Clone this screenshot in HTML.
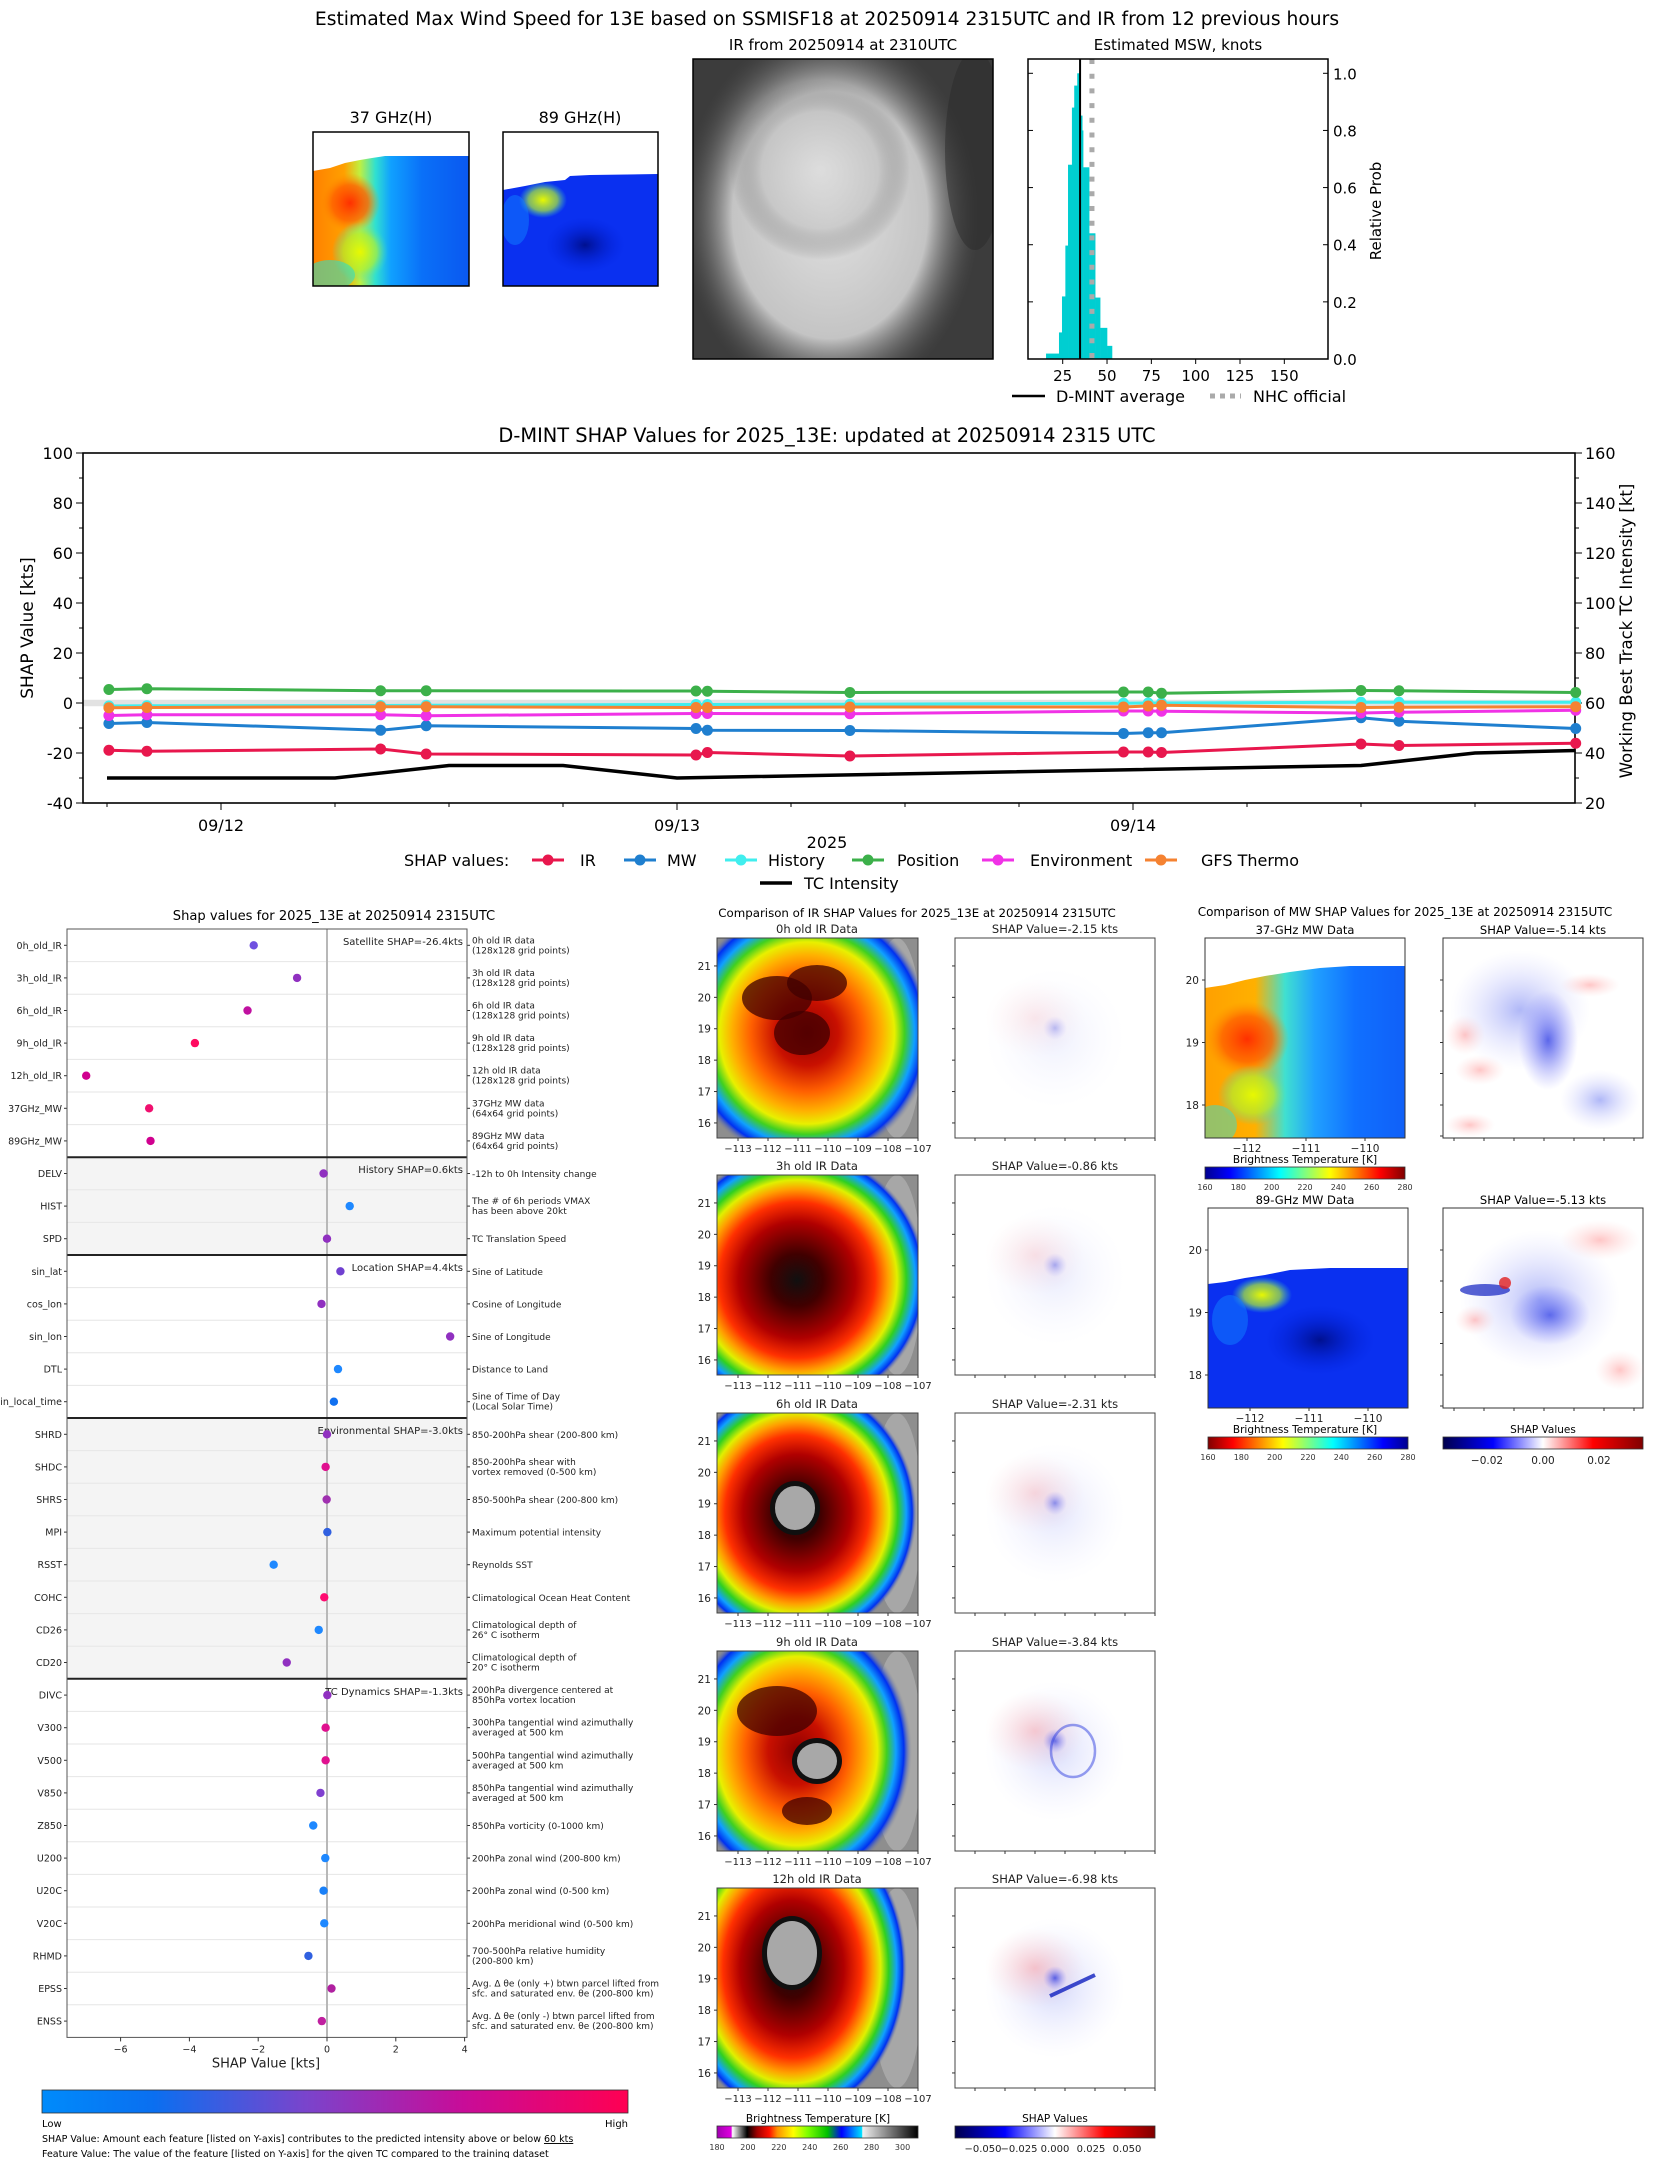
<!DOCTYPE html>
<html><head><meta charset="utf-8">
<style>
html,body{margin:0;padding:0;background:#fff;}
svg{display:block;font-family:"DejaVu Sans","Liberation Sans",sans-serif;}
</style></head>
<body>
<svg id="root" xmlns="http://www.w3.org/2000/svg" width="1655" height="2158" viewBox="0 0 1655 2158">
<defs>
  <linearGradient id="jet" x1="0" x2="1" y1="0" y2="0">
    <stop offset="0" stop-color="#00008f"/><stop offset="0.125" stop-color="#0000ff"/><stop offset="0.375" stop-color="#00ffff"/><stop offset="0.625" stop-color="#ffff00"/><stop offset="0.875" stop-color="#ff0000"/><stop offset="1" stop-color="#800000"/>
  </linearGradient>
  <linearGradient id="jetr" x1="1" x2="0" y1="0" y2="0">
    <stop offset="0" stop-color="#00008f"/><stop offset="0.125" stop-color="#0000ff"/><stop offset="0.375" stop-color="#00ffff"/><stop offset="0.625" stop-color="#ffff00"/><stop offset="0.875" stop-color="#ff0000"/><stop offset="1" stop-color="#800000"/>
  </linearGradient>
  <linearGradient id="bwr" x1="0" x2="1" y1="0" y2="0">
    <stop offset="0" stop-color="#00004c"/><stop offset="0.25" stop-color="#0000ff"/><stop offset="0.5" stop-color="#ffffff"/><stop offset="0.75" stop-color="#ff0000"/><stop offset="1" stop-color="#800000"/>
  </linearGradient>
  <linearGradient id="irmap" x1="0" x2="1" y1="0" y2="0">
    <stop offset="0" stop-color="#a000b0"/><stop offset="0.07" stop-color="#e000e0"/><stop offset="0.077" stop-color="#ffffff"/><stop offset="0.15" stop-color="#000000"/><stop offset="0.2" stop-color="#a00000"/><stop offset="0.26" stop-color="#ff1000"/><stop offset="0.3" stop-color="#ff9000"/><stop offset="0.38" stop-color="#ffff00"/><stop offset="0.45" stop-color="#80ff00"/><stop offset="0.55" stop-color="#00c000"/><stop offset="0.62" stop-color="#0000ff"/><stop offset="0.72" stop-color="#00e0ff"/><stop offset="0.725" stop-color="#f0f0f0"/><stop offset="1" stop-color="#000000"/>
  </linearGradient>
  <linearGradient id="shapcb" x1="0" x2="1" y1="0" y2="0">
    <stop offset="0" stop-color="#008bfb"/><stop offset="0.19" stop-color="#0a6ff0"/><stop offset="0.45" stop-color="#7a44cc"/><stop offset="0.72" stop-color="#c80c98"/><stop offset="1" stop-color="#ff0052"/>
  </linearGradient>
  <radialGradient id="irA">
    <stop offset="0" stop-color="#900000"/><stop offset="0.25" stop-color="#c81000"/><stop offset="0.45" stop-color="#ff6000"/><stop offset="0.6" stop-color="#ffb000"/><stop offset="0.7" stop-color="#e8f000"/><stop offset="0.78" stop-color="#40d020"/><stop offset="0.86" stop-color="#10a0ff"/><stop offset="0.93" stop-color="#0030f0"/><stop offset="1" stop-color="#8c8c8c" stop-opacity="0"/>
  </radialGradient>
  <radialGradient id="irB">
    <stop offset="0" stop-color="#101010"/><stop offset="0.2" stop-color="#400000"/><stop offset="0.45" stop-color="#b00000"/><stop offset="0.6" stop-color="#ff3000"/><stop offset="0.7" stop-color="#ffa000"/><stop offset="0.77" stop-color="#e0f000"/><stop offset="0.84" stop-color="#30d020"/><stop offset="0.91" stop-color="#10a0ff"/><stop offset="0.96" stop-color="#0030f0"/><stop offset="1" stop-color="#8c8c8c" stop-opacity="0"/>
  </radialGradient>
  <radialGradient id="grayir">
    <stop offset="0" stop-color="#e0e0e0"/><stop offset="0.65" stop-color="#c4c4c4"/><stop offset="1" stop-color="#505050" stop-opacity="0"/>
  </radialGradient>
  <radialGradient id="redblob"><stop offset="0" stop-color="#ff3000"/><stop offset="0.6" stop-color="#ff6000" stop-opacity="0.8"/><stop offset="1" stop-color="#ff9000" stop-opacity="0"/></radialGradient>
  <radialGradient id="yelblob"><stop offset="0" stop-color="#e8f800"/><stop offset="0.6" stop-color="#b0f030" stop-opacity="0.7"/><stop offset="1" stop-color="#40e0c0" stop-opacity="0"/></radialGradient>
  <radialGradient id="darkblob"><stop offset="0" stop-color="#00108f"/><stop offset="1" stop-color="#0020e0" stop-opacity="0"/></radialGradient>
  <radialGradient id="blueblob"><stop offset="0" stop-color="#2030e0" stop-opacity="0.8"/><stop offset="1" stop-color="#8080ff" stop-opacity="0"/></radialGradient>
  <radialGradient id="faintblue"><stop offset="0" stop-color="#6070f0" stop-opacity="0.5"/><stop offset="1" stop-color="#c0c0ff" stop-opacity="0"/></radialGradient>
  <radialGradient id="faintred"><stop offset="0" stop-color="#ff8080" stop-opacity="0.45"/><stop offset="1" stop-color="#ffc0c0" stop-opacity="0"/></radialGradient>
  <linearGradient id="mw37fill" x1="0" x2="1" y1="0" y2="0">
    <stop offset="0" stop-color="#ff8000"/><stop offset="0.2" stop-color="#ffa000"/><stop offset="0.3" stop-color="#c0f040"/><stop offset="0.4" stop-color="#30e0d0"/><stop offset="0.5" stop-color="#10a0ff"/><stop offset="0.7" stop-color="#0a70f8"/><stop offset="1" stop-color="#0a58f0"/>
  </linearGradient>
  <linearGradient id="mw37big" x1="0" x2="1" y1="0" y2="0">
    <stop offset="0" stop-color="#ffa000"/><stop offset="0.25" stop-color="#ffb000"/><stop offset="0.4" stop-color="#40e0d0"/><stop offset="0.55" stop-color="#20a0ff"/><stop offset="0.75" stop-color="#1070ff"/><stop offset="1" stop-color="#1060f8"/>
  </linearGradient>
  <clipPath id="clip37"><rect x="313" y="132" width="156" height="154"/></clipPath>
  <clipPath id="clip89"><rect x="503" y="132" width="155" height="154"/></clipPath>
  <clipPath id="clipIRtop"><rect x="693" y="59" width="300" height="300"/></clipPath>
  <clipPath id="clipMW37"><rect x="1205" y="938" width="200" height="200"/></clipPath>
  <clipPath id="clipMW89"><rect x="1208" y="1208" width="200" height="200"/></clipPath>
</defs>

<!-- ============ TOP SECTION ============ -->
<text x="827" y="25" font-size="18.7" text-anchor="middle">Estimated Max Wind Speed for 13E based on SSMISF18 at 20250914 2315UTC and IR from 12 previous hours</text>
<text x="391" y="123" font-size="16" text-anchor="middle">37 GHz(H)</text>
<text x="580" y="123" font-size="16" text-anchor="middle">89 GHz(H)</text>
<text x="843" y="50" font-size="15" text-anchor="middle">IR from 20250914 at 2310UTC</text>
<text x="1178" y="50" font-size="15" text-anchor="middle">Estimated MSW, knots</text>

<g clip-path="url(#clip37)">
  <rect x="313" y="132" width="156" height="154" fill="#fff"/>
  <polygon points="313,171 330,168 345,163 360,160 372,158 385,156 469,156 469,286 313,286" fill="url(#mw37fill)"/>
  <ellipse cx="350" cy="203" rx="30" ry="30" fill="url(#redblob)"/>
  <ellipse cx="360" cy="252" rx="28" ry="30" fill="url(#yelblob)"/>
  <ellipse cx="330" cy="275" rx="25" ry="15" fill="#30e0c0" opacity="0.6"/>
</g>
<rect x="313" y="132" width="156" height="154" fill="none" stroke="#000" stroke-width="1.5"/>
<g clip-path="url(#clip89)">
  <rect x="503" y="132" width="155" height="154" fill="#fff"/>
  <polygon points="503,190 525,186 545,182 565,180 570,176 590,175 658,174 658,286 503,286" fill="#0a30f0"/>
  <ellipse cx="543" cy="200" rx="24" ry="18" fill="url(#yelblob)"/>
  <ellipse cx="585" cy="245" rx="40" ry="28" fill="url(#darkblob)"/>
  <ellipse cx="515" cy="220" rx="14" ry="25" fill="#1080ff" opacity="0.5"/>
</g>
<rect x="503" y="132" width="155" height="154" fill="none" stroke="#000" stroke-width="1.5"/>

<g clip-path="url(#clipIRtop)">
  <rect x="693" y="59" width="300" height="300" fill="#3c3c3c"/>
  <ellipse cx="830" cy="215" rx="150" ry="190" fill="url(#grayir)"/>
  <ellipse cx="820" cy="170" rx="90" ry="90" fill="url(#grayir)" opacity="0.7"/>
  <ellipse cx="975" cy="150" rx="30" ry="100" fill="#2a2a2a" opacity="0.5"/>
</g>
<rect x="693" y="59" width="300" height="300" fill="none" stroke="#000" stroke-width="1.5"/>

<g id="hist"></g>

<!-- ============ SHAP TIME SERIES ============ -->
<text x="827" y="442" font-size="19.4" text-anchor="middle">D-MINT SHAP Values for 2025_13E: updated at 20250914 2315 UTC</text>
<g id="ts"></g>

<!-- ============ BOTTOM LEFT ============ -->
<text x="334" y="920" font-size="13.1" text-anchor="middle">Shap values for 2025_13E at 20250914 2315UTC</text>
<g id="dots"></g>
<rect x="42" y="2090" width="586" height="23" fill="url(#shapcb)" stroke="#333" stroke-width="0.8"/>
<text x="42" y="2127" font-size="10">Low</text>
<text x="628" y="2127" font-size="10" text-anchor="end">High</text>
<text x="42" y="2142" font-size="9.5">SHAP Value: Amount each feature [listed on Y-axis] contributes to the predicted intensity above or below <tspan text-decoration="underline">60 kts</tspan></text>
<text x="42" y="2157" font-size="9.5">Feature Value: The value of the feature [listed on Y-axis] for the given TC compared to the training dataset</text>

<!-- ============ BOTTOM MIDDLE ============ -->
<text x="917" y="917" font-size="11.8" text-anchor="middle">Comparison of IR SHAP Values for 2025_13E at 20250914 2315UTC</text>
<g id="irpanels"></g>
<text x="818" y="2122" font-size="10.5" text-anchor="middle">Brightness Temperature [K]</text>
<rect x="717" y="2126" width="201" height="12" fill="url(#irmap)" stroke="#333" stroke-width="0.8"/>
<g id="ircbticks"></g>
<text x="1055" y="2122" font-size="10.5" text-anchor="middle">SHAP Values</text>
<rect x="955" y="2126" width="200" height="12" fill="url(#bwr)" stroke="#333" stroke-width="0.8"/>
<g id="irshapcbticks"></g>

<!-- ============ BOTTOM RIGHT ============ -->
<text x="1405" y="916" font-size="12" text-anchor="middle">Comparison of MW SHAP Values for 2025_13E at 20250914 2315UTC</text>
<text x="1305" y="934" font-size="11.5" text-anchor="middle">37-GHz MW Data</text>
<text x="1543" y="934" font-size="11.5" text-anchor="middle">SHAP Value=-5.14 kts</text>
<g clip-path="url(#clipMW37)">
  <rect x="1205" y="938" width="200" height="200" fill="#fff"/>
  <polygon points="1205,988 1225,985 1245,980 1265,976 1290,972 1320,968 1350,966 1405,966 1405,1138 1205,1138" fill="url(#mw37big)"/>
  <ellipse cx="1247" cy="1039" rx="42" ry="38" fill="url(#redblob)"/>
  <ellipse cx="1253" cy="1095" rx="35" ry="30" fill="url(#yelblob)"/>
  <ellipse cx="1215" cy="1125" rx="22" ry="20" fill="#30e0d0" opacity="0.5"/>
</g>
<rect x="1205" y="938" width="200" height="200" fill="none" stroke="#333" stroke-width="1"/>
<rect x="1443" y="938" width="200" height="200" fill="#fff" stroke="#333" stroke-width="1"/>
<g>
  <ellipse cx="1548" cy="1040" rx="30" ry="50" fill="url(#blueblob)"/>
  <ellipse cx="1520" cy="1010" rx="70" ry="60" fill="url(#faintblue)"/>
  <ellipse cx="1465" cy="1035" rx="20" ry="20" fill="url(#faintred)"/>
  <ellipse cx="1480" cy="1070" rx="25" ry="15" fill="url(#faintred)"/>
  <ellipse cx="1470" cy="1125" rx="25" ry="12" fill="url(#faintred)"/>
  <ellipse cx="1590" cy="985" rx="30" ry="12" fill="url(#faintred)"/>
  <ellipse cx="1600" cy="1100" rx="40" ry="30" fill="url(#faintblue)"/>
</g>
<text x="1305" y="1163" font-size="10.5" text-anchor="middle">Brightness Temperature [K]</text>
<rect x="1205" y="1167" width="200" height="12" fill="url(#jet)" stroke="#333" stroke-width="0.8"/>
<text x="1305" y="1204" font-size="11.5" text-anchor="middle">89-GHz MW Data</text>
<text x="1543" y="1204" font-size="11.5" text-anchor="middle">SHAP Value=-5.13 kts</text>
<g clip-path="url(#clipMW89)">
  <rect x="1208" y="1208" width="200" height="200" fill="#fff"/>
  <polygon points="1208,1284 1225,1282 1245,1278 1265,1275 1290,1270 1330,1268 1408,1268 1408,1408 1208,1408" fill="#0a30f0"/>
  <ellipse cx="1262" cy="1295" rx="30" ry="18" fill="url(#yelblob)"/>
  <ellipse cx="1320" cy="1340" rx="55" ry="35" fill="url(#darkblob)"/>
  <ellipse cx="1230" cy="1320" rx="18" ry="25" fill="#1080ff" opacity="0.5"/>
</g>
<rect x="1208" y="1208" width="200" height="200" fill="none" stroke="#333" stroke-width="1"/>
<rect x="1443" y="1208" width="200" height="200" fill="#fff" stroke="#333" stroke-width="1"/>
<g>
  <ellipse cx="1550" cy="1315" rx="40" ry="30" fill="url(#blueblob)"/>
  <ellipse cx="1540" cy="1300" rx="80" ry="70" fill="url(#faintblue)"/>
  <ellipse cx="1485" cy="1290" rx="25" ry="6" fill="#1020c0" opacity="0.7"/>
  <ellipse cx="1505" cy="1283" rx="6" ry="6" fill="#e02020" opacity="0.8"/>
  <ellipse cx="1475" cy="1320" rx="20" ry="15" fill="url(#faintred)"/>
  <ellipse cx="1600" cy="1240" rx="40" ry="20" fill="url(#faintred)"/>
  <ellipse cx="1620" cy="1370" rx="25" ry="20" fill="url(#faintred)"/>
</g>
<text x="1305" y="1433" font-size="10.5" text-anchor="middle">Brightness Temperature [K]</text>
<rect x="1208" y="1437" width="200" height="12" fill="url(#jetr)" stroke="#333" stroke-width="0.8"/>
<text x="1543" y="1433" font-size="10.5" text-anchor="middle">SHAP Values</text>
<rect x="1443" y="1437" width="200" height="12" fill="url(#bwr)" stroke="#333" stroke-width="0.8"/>
<g id="mwticks"></g>
</svg>

<script>
const NS='http://www.w3.org/2000/svg';
function mk(parent, tag, attrs, text){
  const e=document.createElementNS(NS,tag);
  for(const k in attrs) e.setAttribute(k,attrs[k]);
  if(text!=null) e.textContent=text;
  parent.appendChild(e);
  return e;
}

/* ---------- Histogram data ---------- */
const histEdges=[15.6,22.9,24.6,26.5,28.0,30.2,31.5,33.2,34.8,36.0,36.5,39.9,43.3,46.1,50.0,52.8];
const histProb=[0.019,0.093,0.219,0.397,0.68,0.88,0.957,1.0,0.852,0.80,0.671,0.44,0.215,0.109,0.046];
const dmintAvg=34.8;
const nhcOfficial=41.5;
const histXTicks=[25,50,75,100,125,150];
const histYTicks=[0,0.2,0.4,0.6,0.8,1.0];

/* ---------- Time series data (hours from 09/12 00Z) ---------- */
const tsHours=[-5.9,-3.9,8.4,10.8,25.0,25.6,33.1,47.5,48.8,49.5,60,62,71.3];
const shapIR=[-18.9,-19.3,-18.4,-20.4,-20.8,-19.8,-21.2,-19.6,-19.6,-19.8,-16.4,-17.0,-16.1];
const shapMW=[-8.2,-7.8,-10.9,-9.1,-10.2,-10.9,-11.0,-12.2,-11.9,-11.9,-5.9,-7.3,-10.2];
const shapHistory=[-1.2,-1.1,-1.0,-0.9,-0.6,-0.6,-0.5,-0.1,0,0,0.3,0.3,0.3];
const shapPosition=[5.4,5.7,4.9,4.9,4.8,4.7,4.2,4.4,4.4,3.9,5.0,4.9,4.2];
const shapEnv=[-5.0,-4.7,-4.7,-5.1,-4.2,-4.2,-4.3,-3.2,-3.2,-3.3,-4.0,-3.7,-2.9];
const shapGFS=[-1.9,-1.8,-1.5,-1.5,-1.8,-1.8,-1.6,-1.6,-1.2,-0.9,-1.8,-1.7,-1.5];
const tcHours=[-6,6,12,18,24,60,66,71.3];
const tcIntensity=[30,30,35,35,30,35,40,41];
const tsLeftTicks=[-40,-20,0,20,40,60,80,100];
const tsRightTicks=[20,40,60,80,100,120,140,160];
const tsDateLabels=['09/12','09/13','09/14'];

/* ---------- Dot chart data ---------- */
const featNames=['0h_old_IR','3h_old_IR','6h_old_IR','9h_old_IR','12h_old_IR','37GHz_MW','89GHz_MW','DELV','HIST','SPD','sin_lat','cos_lon','sin_lon','DTL','sin_local_time','SHRD','SHDC','SHRS','MPI','RSST','COHC','CD26','CD20','DIVC','V300','V500','V850','Z850','U200','U20C','V20C','RHMD','EPSS','ENSS'];
const featShap=[-2.13,-0.87,-2.31,-3.84,-7.0,-5.17,-5.13,-0.1,0.66,0.0,0.39,-0.16,3.58,0.32,0.2,0.0,-0.04,-0.01,0.01,-1.55,-0.08,-0.24,-1.17,0.01,-0.04,-0.04,-0.19,-0.40,-0.05,-0.1,-0.08,-0.54,0.13,-0.15];
const featColor=['#7050e0','#9030c0','#c010a0','#ff0a60','#d0008f','#f0106f','#d0008f','#9030c0','#1e88ff','#9030c0','#7040d0','#9030c0','#9030c0','#1e88ff','#1070f0','#9030c0','#e0108f','#a030b0','#3060e0','#1e88ff','#ff0a70','#1e88ff','#9030c0','#9030c0','#e0108f','#e0108f','#8040d0','#1e88ff','#1e88ff','#1a80f8','#1e88ff','#3060e0','#b020a0','#c020a0'];
const featDesc=[['0h old IR data','(128x128 grid points)'],['3h old IR data','(128x128 grid points)'],['6h old IR data','(128x128 grid points)'],['9h old IR data','(128x128 grid points)'],['12h old IR data','(128x128 grid points)'],['37GHz MW data','(64x64 grid points)'],['89GHz MW data','(64x64 grid points)'],['-12h to 0h Intensity change'],['The # of 6h periods VMAX','has been above 20kt'],['TC Translation Speed'],['Sine of Latitude'],['Cosine of Longitude'],['Sine of Longitude'],['Distance to Land'],['Sine of Time of Day','(Local Solar Time)'],['850-200hPa shear (200-800 km)'],['850-200hPa shear with','vortex removed (0-500 km)'],['850-500hPa shear (200-800 km)'],['Maximum potential intensity'],['Reynolds SST'],['Climatological Ocean Heat Content'],['Climatological depth of','26° C isotherm'],['Climatological depth of','20° C isotherm'],['200hPa divergence centered at','850hPa vortex location'],['300hPa tangential wind azimuthally','averaged at 500 km'],['500hPa tangential wind azimuthally','averaged at 500 km'],['850hPa tangential wind azimuthally','averaged at 500 km'],['850hPa vorticity (0-1000 km)'],['200hPa zonal wind (200-800 km)'],['200hPa zonal wind (0-500 km)'],['200hPa meridional wind (0-500 km)'],['700-500hPa relative humidity','(200-800 km)'],['Avg. Δ θe (only +) btwn parcel lifted from','sfc. and saturated env. θe (200-800 km)'],['Avg. Δ θe (only -) btwn parcel lifted from','sfc. and saturated env. θe (200-800 km)']];
const groupNames=['Satellite SHAP=-26.4kts','History SHAP=0.6kts','Location SHAP=4.4kts','Environmental SHAP=-3.0kts','TC Dynamics SHAP=-1.3kts'];
const groupStart=[0,7,10,15,23];
const groupSize=[7,3,5,8,11];
const dotXTicks=[-6,-4,-2,0,2,4];

/* ---------- IR panel data ---------- */
const irTitles=['0h old IR Data','3h old IR Data','6h old IR Data','9h old IR Data','12h old IR Data'];
const irShapVals=['-2.15','-0.86','-2.31','-3.84','-6.98'];
const lonTicks=[-113,-112,-111,-110,-109,-108,-107];
const latTicks=[16,17,18,19,20,21];
const irCbTicks=[180,200,220,240,260,280,300];
const shapCbTicks=['−0.050','−0.025','0.000','0.025','0.050'];
const mwCbTicks=[160,180,200,220,240,260,280];

/* ===== Histogram ===== */
(function(){
  const g=document.getElementById('hist');
  const X0=1028,X1=1328,Y0=359,Y1=59;
  const xs=v=>1062.7+(v-25)*1.773;
  const ys=p=>Y0-p*285.7;
  for(let i=0;i<histProb.length;i++){
    const b=mk(g,'rect',{x:xs(histEdges[i]),y:ys(histProb[i]),width:xs(histEdges[i+1])-xs(histEdges[i])+0.3,height:Y0-ys(histProb[i]),fill:'#00ced1'});
    
    
  }
  const l=mk(g,'line',{x1:xs(dmintAvg),x2:xs(dmintAvg),y1:Y1,y2:Y0,stroke:'#000','stroke-width':2});
  
  
  const n=mk(g,'line',{x1:xs(nhcOfficial),x2:xs(nhcOfficial),y1:Y1,y2:Y0,stroke:'#aaa','stroke-width':5,'stroke-dasharray':'5 9.7'});
  
  
  const f=mk(g,'rect',{x:X0,y:Y1,width:X1-X0,height:Y0-Y1,fill:'none',stroke:'#000','stroke-width':1.5});
  
  
  histXTicks.forEach(v=>{
    mk(g,'line',{x1:xs(v),x2:xs(v),y1:Y0,y2:Y0+5,stroke:'#000'});
    const t=mk(g,'text',{x:xs(v),y:Y0+22,'font-size':15,'text-anchor':'middle'},String(v));
    
    
  });
  histYTicks.forEach(v=>{
    mk(g,'line',{x1:X1-5,x2:X1,y1:ys(v),y2:ys(v),stroke:'#000'});
    mk(g,'line',{x1:X0,x2:X0+5,y1:ys(v),y2:ys(v),stroke:'#000'});
    const t=mk(g,'text',{x:X1+5,y:ys(v)+6,'font-size':15},v.toFixed(1));
    
    
  });
  const yl=mk(g,'text',{x:0,y:0,'font-size':15,'text-anchor':'middle',transform:'translate(1381,211) rotate(-90)'},'Relative Prob');
  
  
  mk(g,'line',{x1:1012,x2:1045,y1:396,y2:396,stroke:'#000','stroke-width':2.5});
  const lt1=mk(g,'text',{x:1056,y:402,'font-size':16},'D-MINT average');
  
  
  mk(g,'line',{x1:1210,x2:1241,y1:396,y2:396,stroke:'#aaa','stroke-width':5,'stroke-dasharray':'5 5'});
  const lt2=mk(g,'text',{x:1253,y:402,'font-size':16},'NHC official');
  
  
})();

/* ===== Time series ===== */
(function(){
  const g=document.getElementById('ts');
  const X0=83,X1=1575,Y0=803,Y1=453;
  const xs=h=>221+h/24*456;
  const ys=v=>Y0-(v+40)*2.5;
  const yr=v=>Y0-(v-20)*2.5;
  const band=mk(g,'rect',{x:X0,y:ys(1.3),width:X1-X0,height:ys(-1.3)-ys(1.3),fill:'#e2e2e2'});
  
  
  const frame=mk(g,'rect',{x:X0,y:Y1,width:X1-X0,height:Y0-Y1,fill:'none',stroke:'#000','stroke-width':1.6});
  
  
  for(let v=-40;v<=100;v+=10){ mk(g,'line',{x1:X0-(v%20===0?7:4),x2:X0,y1:ys(v),y2:ys(v),stroke:'#000'}); }
  tsLeftTicks.forEach(v=>{
    const t=mk(g,'text',{x:X0-10,y:ys(v)+6,'font-size':16,'text-anchor':'end'},String(v));
    
    
  });
  for(let v=20;v<=160;v+=10){ mk(g,'line',{x1:X1,x2:X1+(v%20===0?7:4),y1:yr(v),y2:yr(v),stroke:'#000'}); }
  tsRightTicks.forEach(v=>{
    const t=mk(g,'text',{x:X1+10,y:yr(v)+6,'font-size':16},String(v));
    
    
  });
  for(let h=-6;h<=71;h+=6){ mk(g,'line',{x1:xs(h),x2:xs(h),y1:Y0,y2:Y0+(h%24===0?7:4),stroke:'#000'}); }
  tsDateLabels.forEach((d,i)=>{
    const t=mk(g,'text',{x:xs(24*i),y:Y0+28,'font-size':16,'text-anchor':'middle'},d);
    
    
  });
  const xl=mk(g,'text',{x:827,y:848,'font-size':16,'text-anchor':'middle'},'2025');
  
  
  const yl=mk(g,'text',{x:0,y:0,'font-size':17,'text-anchor':'middle',transform:'translate(33,628) rotate(-90)'},'SHAP Value [kts]');
  
  
  const yr2=mk(g,'text',{x:0,y:0,'font-size':16.5,'text-anchor':'middle',transform:'translate(1632,631) rotate(-90)'},'Working Best Track TC Intensity [kt]');
  
  

  const tcPts=tcHours.map((h,i)=>xs(h)+','+yr(tcIntensity[i])).join(' ');
  const tc=mk(g,'polyline',{points:tcPts,fill:'none',stroke:'#000','stroke-width':3.5});
  
  

  const series=[['ir',shapIR,'#e8174d'],['mw',shapMW,'#1f7fcf'],['history',shapHistory,'#40eeee'],['position',shapPosition,'#3cb04a'],['environment',shapEnv,'#f032e6'],['gfs-thermo',shapGFS,'#f58231']];
  series.forEach(s=>{
    const pts=tsHours.map((h,i)=>xs(h)+','+ys(s[1][i])).join(' ');
    const pl=mk(g,'polyline',{points:pts,fill:'none',stroke:s[2],'stroke-width':3});
    
    
    tsHours.forEach((h,i)=>{
      const c=mk(g,'circle',{cx:xs(h),cy:ys(s[1][i]),r:5.5,fill:s[2]});
      
      
    });
  });

  const lt=mk(g,'text',{x:404,y:866,'font-size':16},'SHAP values:');
  
  
  const leg=[['IR',548,580,'#e8174d'],['MW',640,667,'#1f7fcf'],['History',741,768,'#40eeee'],['Position',868,897,'#3cb04a'],['Environment',998,1030,'#f032e6'],['GFS Thermo',1161,1201,'#f58231']];
  leg.forEach(e=>{
    mk(g,'line',{x1:e[1]-16,x2:e[1]+16,y1:860,y2:860,stroke:e[3],'stroke-width':3});
    mk(g,'circle',{cx:e[1],cy:860,r:5.5,fill:e[3]});
    const t=mk(g,'text',{x:e[2],y:866,'font-size':16},e[0]);
    
    
  });
  mk(g,'line',{x1:760,x2:792,y1:883,y2:883,stroke:'#000','stroke-width':3.5});
  const tl=mk(g,'text',{x:804,y:889,'font-size':16},'TC Intensity');
  
  
})();

/* ===== Dot chart ===== */
(function(){
  const g=document.getElementById('dots');
  const X0=67,X1=467,Y0=929,RH=32.6;
  const xs=v=>327+v*34.4;
  const rowY=i=>Y0+RH*i+RH/2;
  const Y1=Y0+RH*featNames.length;
  groupStart.forEach((s,k)=>{
    const bg=mk(g,'rect',{x:X0,y:Y0+s*RH,width:X1-X0,height:groupSize[k]*RH,fill:(k%2===1)?'#f4f4f4':'#ffffff'});
    
    
  });
  for(let i=1;i<featNames.length;i++){ mk(g,'line',{x1:X0,x2:X1,y1:Y0+i*RH,y2:Y0+i*RH,stroke:'#e6e6e6','stroke-width':1}); }
  const z=mk(g,'line',{x1:xs(0),x2:xs(0),y1:Y0,y2:Y1,stroke:'#b8b8b8','stroke-width':2});
  
  
  groupStart.forEach((s,k)=>{
    if(k>0){
      const sep=mk(g,'line',{x1:X0,x2:X1,y1:Y0+s*RH,y2:Y0+s*RH,stroke:'#222','stroke-width':2});
      
      
    }
    const gl=mk(g,'text',{x:X1-4,y:Y0+s*RH+16,'font-size':10,'text-anchor':'end',fill:'#222'},groupNames[k]);
    
    
  });
  featNames.forEach((n,i)=>{
    const y=rowY(i);
    mk(g,'line',{x1:X0-3,x2:X0,y1:y,y2:y,stroke:'#333'});
    const t=mk(g,'text',{x:X0-5,y:y+3.5,'font-size':9.5,'text-anchor':'end',fill:'#222'},n);
    
    
    mk(g,'line',{x1:X1,x2:X1+3,y1:y,y2:y,stroke:'#333'});
    const d=featDesc[i];
    d.forEach((line,j)=>{
      const yy=d.length===1? y+3.5 : y-2+j*10;
      const dt=mk(g,'text',{x:X1+5,y:yy,'font-size':9,fill:'#222'},line);
      
      
    });
    const c=mk(g,'circle',{cx:xs(featShap[i]),cy:y,r:4.2,fill:featColor[i]});
    
    
  });
  const fr=mk(g,'rect',{x:X0,y:Y0,width:X1-X0,height:Y1-Y0,fill:'none',stroke:'#555','stroke-width':1});
  
  
  dotXTicks.forEach(v=>{
    mk(g,'line',{x1:xs(v),x2:xs(v),y1:Y1,y2:Y1+4,stroke:'#333'});
    const t=mk(g,'text',{x:xs(v),y:Y1+15,'font-size':9.5,'text-anchor':'middle',fill:'#222'},v<0?'−'+Math.abs(v):String(v));
    
    
  });
  const xl=mk(g,'text',{x:266,y:Y1+30,'font-size':13,'text-anchor':'middle',fill:'#222'},'SHAP Value [kts]');
  
  
})();

/* ===== IR panels ===== */
(function(){
  const g=document.getElementById('irpanels');
  const tops=[938,1175,1413,1651,1888];
  const blobs=[
    {grad:'irA',cx:90,cy:95,rx:125,ry:130,eye:null,dark:[[60,60,35,22],[100,45,30,18],[85,95,28,22]]},
    {grad:'irB',cx:80,cy:105,rx:130,ry:130,eye:null,dark:[]},
    {grad:'irB',cx:80,cy:100,rx:120,ry:130,eye:[78,95,20,22],dark:[]},
    {grad:'irA',cx:80,cy:100,rx:115,ry:135,eye:[100,110,20,18],dark:[[60,60,40,25],[90,160,25,14]]},
    {grad:'irB',cx:75,cy:80,rx:115,ry:150,eye:[75,65,25,32],dark:[]}
  ];
  tops.forEach((top,r)=>{
    const x0=717, sx=955;
    const cp=mk(document.querySelector('defs'),'clipPath',{id:'irclip'+r});
    mk(cp,'rect',{x:x0,y:top,width:201,height:200});
    const t1=mk(g,'text',{x:x0+100,y:top-5,'font-size':11.5,'text-anchor':'middle',fill:'#222'},irTitles[r]);
    
    
    const t2=mk(g,'text',{x:sx+100,y:top-5,'font-size':11.5,'text-anchor':'middle',fill:'#222'},'SHAP Value='+irShapVals[r]+' kts');
    
    
    const img=mk(g,'g',{'clip-path':'url(#irclip'+r+')'});
    
    
    mk(img,'rect',{x:x0,y:top,width:201,height:200,fill:'#8e8e8e'});
    mk(img,'ellipse',{cx:x0+180,cy:top+100,rx:25,ry:100,fill:'#b8b8b8',opacity:0.6});
    const b=blobs[r];
    mk(img,'ellipse',{cx:x0+b.cx,cy:top+b.cy,rx:b.rx,ry:b.ry,fill:'url(#'+b.grad+')'});
    b.dark.forEach(d=>mk(img,'ellipse',{cx:x0+d[0],cy:top+d[1],rx:d[2],ry:d[3],fill:'#400000',opacity:0.75}));
    if(b.eye){ mk(img,'ellipse',{cx:x0+b.eye[0],cy:top+b.eye[1],rx:b.eye[2]+5,ry:b.eye[3]+5,fill:'#101010'}); mk(img,'ellipse',{cx:x0+b.eye[0],cy:top+b.eye[1],rx:b.eye[2],ry:b.eye[3],fill:'#a8a8a8'}); }
    const f1=mk(g,'rect',{x:x0,y:top,width:201,height:200,fill:'none',stroke:'#444','stroke-width':1});
    
    
    const f2=mk(g,'rect',{x:sx,y:top,width:200,height:200,fill:'#fff',stroke:'#444','stroke-width':1});
    
    
    const op=[0.35,0.45,0.6,0.8,0.9][r];
    mk(g,'ellipse',{cx:sx+100,cy:top+100,rx:70,ry:70,fill:'url(#faintblue)',opacity:op*0.6});
    mk(g,'ellipse',{cx:sx+80,cy:top+80,rx:50,ry:40,fill:'url(#faintred)',opacity:op});
    mk(g,'ellipse',{cx:sx+100,cy:top+90,rx:12,ry:12,fill:'url(#blueblob)',opacity:op});
    if(r===4){ mk(g,'line',{x1:sx+95,y1:top+108,x2:sx+140,y2:top+87,stroke:'#1020c0','stroke-width':4,opacity:0.8}); }
    if(r===3){ mk(g,'ellipse',{cx:sx+118,cy:top+100,rx:22,ry:26,fill:'none',stroke:'#3040e0','stroke-width':2.5,opacity:0.5}); }
    latTicks.forEach(v=>{
      const y=top+(21.89-v)*31.4;
      mk(g,'line',{x1:x0-3,x2:x0,y1:y,y2:y,stroke:'#333'});
      mk(g,'line',{x1:sx-3,x2:sx,y1:y,y2:y,stroke:'#333'});
      const t=mk(g,'text',{x:x0-6,y:y+4,'font-size':10.5,'text-anchor':'end',fill:'#222'},String(v));
      
      
    });
    lonTicks.forEach((v,i)=>{
      const x=738+i*30;
      mk(g,'line',{x1:x,x2:x,y1:top+200,y2:top+203,stroke:'#333'});
      mk(g,'line',{x1:sx+i*30+20,x2:sx+i*30+20,y1:top+200,y2:top+203,stroke:'#333'});
      const t=mk(g,'text',{x:x,y:top+214,'font-size':10,'text-anchor':'middle',fill:'#222'},'−'+Math.abs(v));
      
      
    });
  });
  const ct=document.getElementById('ircbticks');
  irCbTicks.forEach(v=>{
    const t=mk(ct,'text',{x:717+(v-180)/130*201,y:2150,'font-size':8,'text-anchor':'middle',fill:'#333'},String(v));
    
    
  });
  const st=document.getElementById('irshapcbticks');
  shapCbTicks.forEach((v,i)=>{
    const t=mk(st,'text',{x:983+i*36,y:2152,'font-size':10,'text-anchor':'middle',fill:'#222'},v);
    
    
  });
})();

/* ===== MW ticks ===== */
(function(){
  const g=document.getElementById('mwticks');
  [[938,1205,1190],[1208,1208,1460]].forEach((p,k)=>{
    const top=p[0],x0=p[1];
    [20,19,18].forEach(v=>{
      const y=top+42+(20-v)*62.5;
      mk(g,'line',{x1:x0-3,x2:x0,y1:y,y2:y,stroke:'#333'});
      mk(g,'line',{x1:1440,x2:1443,y1:y,y2:y,stroke:'#333'});
      mk(g,'line',{x1:1440,x2:1443,y1:y+31,y2:y+31,stroke:'#333'});
      const t=mk(g,'text',{x:x0-6,y:y+4,'font-size':10.5,'text-anchor':'end',fill:'#222'},String(v));
      
      
    });
    [-112,-111,-110].forEach((v,i)=>{
      const x=x0+42+i*59;
      mk(g,'line',{x1:x,x2:x,y1:top+200,y2:top+203,stroke:'#333'});
      const t=mk(g,'text',{x:x,y:top+214,'font-size':10.5,'text-anchor':'middle',fill:'#222'},'−'+Math.abs(v));
      
      
    });
    for(let i=0;i<7;i++){ mk(g,'line',{x1:1454+i*30,x2:1454+i*30,y1:top+200,y2:top+203,stroke:'#333'}); }
    mwCbTicks.forEach(v=>{
      const t=mk(g,'text',{x:x0+(v-160)/120*200,y:p[2],'font-size':8,'text-anchor':'middle',fill:'#333'},String(v));
      
      
    });
  });
  ['−0.02','0.00','0.02'].forEach((v,i)=>{
    const t=mk(g,'text',{x:1487+i*56,y:1464,'font-size':10.5,'text-anchor':'middle',fill:'#222'},v);
    
    
  });
})();
</script>
</body></html>
